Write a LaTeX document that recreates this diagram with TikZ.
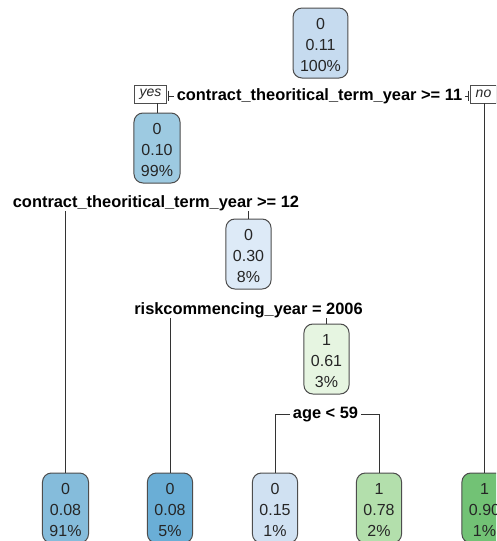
\documentclass[tikz,border=0pt]{standalone}
\usepackage{fontspec}
\setmainfont{Liberation Sans}
\definecolor{edgegrey}{HTML}{4D4D4D}
\definecolor{linegrey}{HTML}{333333}
\definecolor{txt}{HTML}{262626}
\definecolor{cRoot}{HTML}{C6DBEF}
\definecolor{cNtwo}{HTML}{9DCAE1}
\definecolor{cNthree}{HTML}{DDEAF7}
\definecolor{cNfour}{HTML}{E6F5E1}
\definecolor{cLone}{HTML}{85BCDB}
\definecolor{cLtwo}{HTML}{6AAED6}
\definecolor{cLthree}{HTML}{D0E1F2}
\definecolor{cLfour}{HTML}{B3DFAC}
\definecolor{cLfive}{HTML}{72C275}
\newcommand{\firstln}{\rule{0pt}{16pt}}
\begin{document}
\begin{tikzpicture}[x=1pt,y=-1pt,
  treebox/.style={draw=edgegrey, line width=1pt, rounded corners=9pt, minimum width=44pt, minimum height=70pt, inner xsep=7pt, inner ysep=0pt, align=center, font=\fontsize{16}{21}\selectfont, text=txt},
  splitlabel/.style={font=\bfseries\fontsize{16.4}{20}\selectfont, inner xsep=3pt, inner ysep=0pt, text height=12pt, text depth=4pt, anchor=base},
  tagbox/.style={draw=edgegrey, line width=0.7pt, fill=white, inner xsep=5pt, inner ysep=0pt, minimum height=18pt, font=\itshape\fontsize{14}{16}\selectfont, text=txt},
  conn/.style={draw=linegrey, line width=1pt}]
\clip (0,0) rectangle (496,541);
\fill[white] (0,0) rectangle (496,541);
% inner nodes
\node[treebox, fill=cRoot] (root) at (320.5,43) {\firstln 0\\0.11\\100\%};
\node[treebox, fill=cNtwo] (n2) at (157,148) {\firstln 0\\0.10\\99\%};
\node[treebox, fill=cNthree] (n3) at (248.5,254) {\firstln 0\\0.30\\8\%};
\node[treebox, fill=cNfour] (n4) at (326.5,359) {\firstln 1\\0.61\\3\%};
% leaves
\node[treebox, fill=cLone] (l1) at (65.5,508) {\firstln 0\\0.08\\91\%};
\node[treebox, fill=cLtwo] (l2) at (170,508) {\firstln 0\\0.08\\5\%};
\node[treebox, fill=cLthree] (l3) at (275,508) {\firstln 0\\0.15\\1\%};
\node[treebox, fill=cLfour] (l4) at (379,508) {\firstln 1\\0.78\\2\%};
\node[treebox, fill=cLfive] (l5) at (484.5,508) {\firstln 1\\0.90\\1\%};
% split labels
\node[splitlabel] (s1) at (319.5,100.5) {contract\_theoritical\_term\_year >= 11};
\node[splitlabel] (s2) at (156,207) {contract\_theoritical\_term\_year >= 12};
\node[splitlabel] (s3) at (248.5,314) {riskcommencing\_year = 2006};
\node[splitlabel] (s4) at (325.5,418) {age < 59};
% yes / no tags
\node[tagbox] (yes) at (150.5,94) {yes};
\node[tagbox] (no) at (483.5,94) {no};
% connectors
\draw[conn] (s1.west) -- ([xshift=2pt]yes.east |- s1.west);
\draw[conn] ([xshift=2pt]yes.east |- s1.west) ++(0,-6) -- ++(0,10);
\draw[conn] (yes.south -| n2.north) -- (n2.north);
\draw[conn] (s1.east) -- ([xshift=-2pt]no.west |- s1.east);
\draw[conn] ([xshift=-2pt]no.west |- s1.east) ++(0,-6) -- ++(0,10);
\draw[conn] (no.south -| l5.north) -- (l5.north);
\draw[conn] (s2.south -| l1.north) -- (l1.north);
\draw[conn] (s2.south -| n3.north) -- (n3.north);
\draw[conn] (s3.south -| l2.north) -- (l2.north);
\draw[conn] (s3.south -| n4.north) -- (n4.north);
\draw[conn] (s4.west) -| (l3.north);
\draw[conn] (s4.east) -| (l4.north);
\end{tikzpicture}
\end{document}
